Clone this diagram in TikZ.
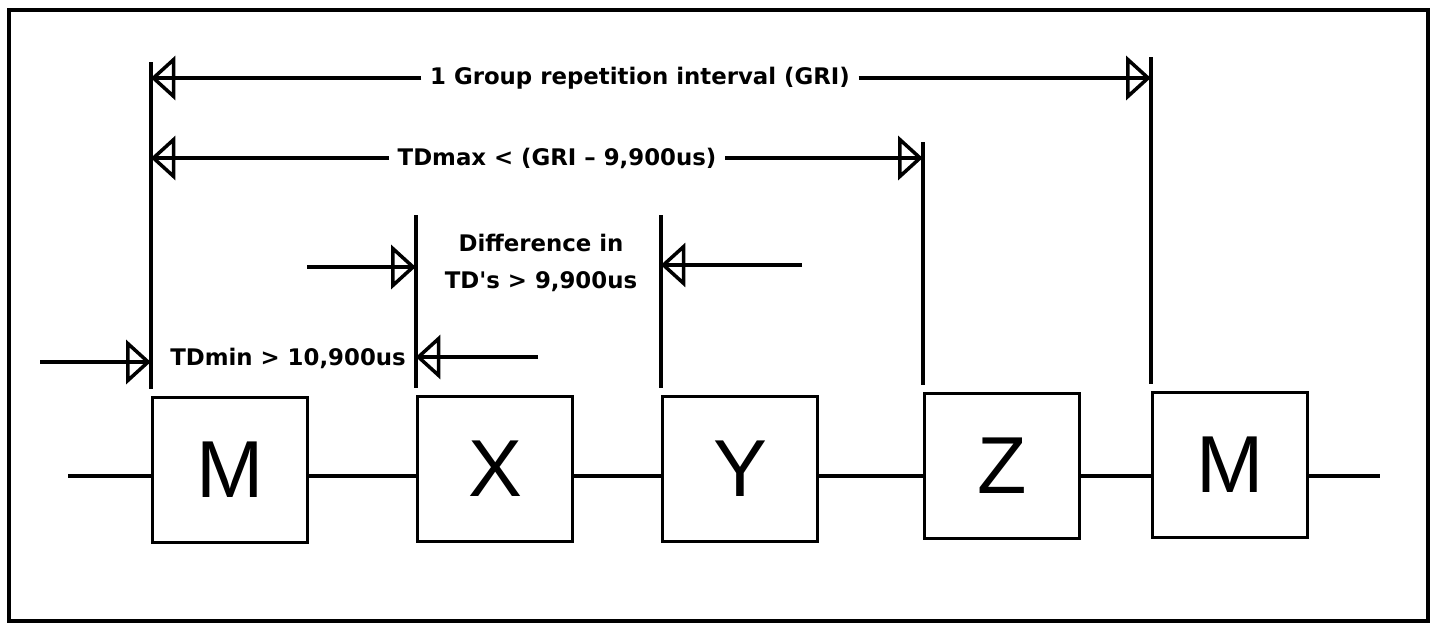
\documentclass[tikz,border=0pt]{standalone}
\usepackage{fontspec}
\setmainfont{Liberation Sans}
\newfontfamily\lblfont{DejaVu Sans}
\usetikzlibrary{arrows.meta, decorations.markings, positioning}

\begin{document}
\begin{tikzpicture}[x=0.02cm, y=-0.02cm, line width=2pt,
    slot/.style={draw, minimum width=3.1cm, minimum height=2.9cm, inner sep=0pt, font=\fontsize{46}{46}\selectfont},
    lbl/.style={inner sep=4pt, font=\lblfont\bfseries\fontsize{13}{21}\selectfont},
    dimtip/.style={postaction={decorate}, decoration={markings, mark=at position 1 with {\arrow{Triangle[open, length=14pt, width=25pt]}}}}]
    \useasboundingbox (0,0) rectangle (1436,628);
    \draw[line width=2.4pt] (9,10) rectangle (1428,621);

    \node[slot] (m1) at (230,470) {M};
    \node[slot] (sx) at (495,469) {X};
    \node[slot] (sy) at (740,469) {Y};
    \node[slot] (sz) at (1002,466) {Z};
    \node[slot] (m2) at (1230,465) {M};

    \coordinate (wl) at (68,476);
    \coordinate (wr) at (1380,476);
    \draw (wl) -- (wl -| m1.west)
        (m1.east |- wl) -- (sx.west |- wl)
        (sx.east |- wl) -- (sy.west |- wl)
        (sy.east |- wl) -- (sz.west |- wl)
        (sz.east |- wl) -- (m2.west |- wl)
        (m2.east |- wl) -- (wr);

    \foreach \b/\t in {m1/62, sx/215, sy/215, sz/142, m2/57}
        \draw ([yshift=4pt]\b.north west) -- (\b.north west |- 0,\t);

    \node[lbl] (gri) at (640,78) {1 Group repetition interval (GRI)};
    \node[lbl] (tdmax) at (557,158) {TDmax < (GRI – 9,900us)};
    \node[lbl, align=center] (diff) at (541,263) {Difference in\\TD's > 9,900us};
    \node[lbl] (tdmin) at (288,358) {TDmin > 10,900us};

    \coordinate (dl) at (307,267);
    \coordinate (dr) at (802,265);
    \coordinate (tl) at (40,362);
    \coordinate (tr) at (538,357);

    \draw[dimtip] (gri.west) -- (gri.west -| m1.west);
    \draw[dimtip] (gri.east) -- (gri.east -| m2.west);
    \draw[dimtip] (tdmax.west) -- (tdmax.west -| m1.west);
    \draw[dimtip] (tdmax.east) -- (tdmax.east -| sz.west);
    \draw[dimtip] (dl) -- (dl -| sx.west);
    \draw[dimtip] (dr) -- (dr -| sy.west);
    \draw[dimtip] (tl) -- (tl -| m1.west);
    \draw[dimtip] (tr) -- (tr -| sx.west);
\end{tikzpicture}
\end{document}
